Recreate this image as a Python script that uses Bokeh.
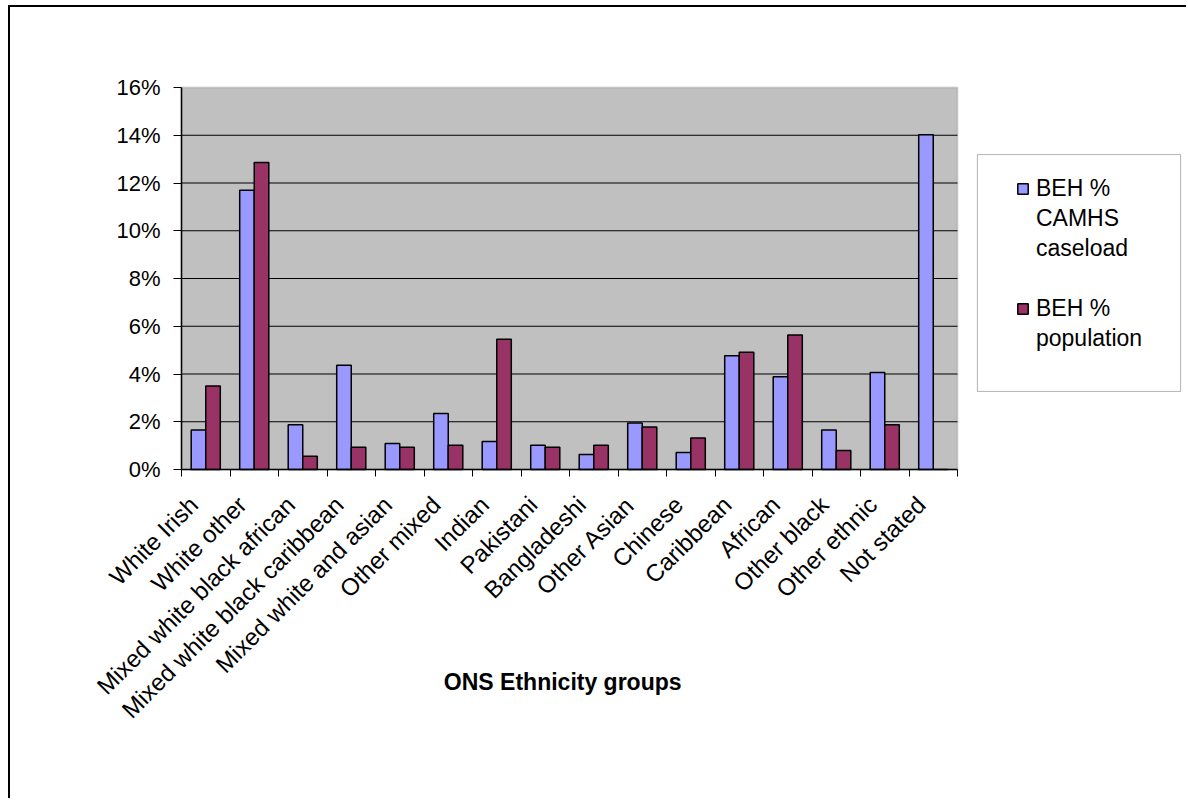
from bokeh.plotting import figure
from bokeh.models import (Range1d, FixedTicker, NumeralTickFormatter, Legend,
                          LegendItem, BoxAnnotation, Label)
from bokeh.embed import file_html
from bokeh.resources import INLINE

# ONS ethnicity groups and the two shares (fractions of the total)
categories = [
    "White Irish", "White other", "Mixed white black african",
    "Mixed white black caribbean", "Mixed white and asian", "Other mixed",
    "Indian", "Pakistani", "Bangladeshi", "Other Asian", "Chinese",
    "Caribbean", "African", "Other black", "Other ethnic", "Not stated",
]
caseload = [0.0165, 0.1170, 0.0187, 0.0437, 0.0109, 0.0235, 0.0117, 0.0102,
            0.0063, 0.0195, 0.0071, 0.0476, 0.0388, 0.0165, 0.0406, 0.1402]
population = [0.0350, 0.1286, 0.0056, 0.0093, 0.0093, 0.0102, 0.0546, 0.0093,
              0.0102, 0.0178, 0.0132, 0.0491, 0.0563, 0.0080, 0.0187, 0.0]
series_lines = [["BEH %", "CAMHS", "caseload"], ["BEH %", "population"]]
y_ticks = [0.0, 0.02, 0.04, 0.06, 0.08, 0.10, 0.12, 0.14, 0.16]
x_title = "ONS Ethnicity groups"

FONT = "Liberation Sans"
BLUE = "#9999FF"
PLUM = "#993366"

n = len(categories)
centers = [i + 0.5 for i in range(n)]
label_pos = [c - 0.25 for c in centers]   # rotated labels end just left of centre
bar_w = 0.3

# The frame covers the whole canvas; both axes are pinned at zero inside it.
# The bars occupy 776 x 382 px, starting 171 px from the left, 80 px down.
FIG_W, FIG_H = 1178, 793
PLOT_W, PLOT_H = 776, 382
AXIS_LEFT, AXIS_TOP = 171, 80
x_per_px = n / PLOT_W
y_per_px = (y_ticks[-1] - y_ticks[0]) / PLOT_H
x_start = -AXIS_LEFT * x_per_px
x_end = x_start + FIG_W * x_per_px
y_end = y_ticks[-1] + AXIS_TOP * y_per_px
y_start = y_end - FIG_H * y_per_px

p = figure(
    width=FIG_W, height=FIG_H,
    x_range=Range1d(x_start, x_end), y_range=Range1d(y_start, y_end),
    output_backend="svg", toolbar_location=None,
    min_border_left=0, min_border_right=0,
    min_border_top=0, min_border_bottom=0,
    background_fill_color="white", border_fill_color="white",
    styles={"margin-left": "8px", "margin-top": "5px",
            "border-left": "2px solid #000", "border-top": "2px solid #000"},
)
p.outline_line_color = None
p.xgrid.visible = False
p.ygrid.visible = False

# grey plot area
p.add_layout(BoxAnnotation(left=0, right=n, bottom=y_ticks[0], top=y_ticks[-1],
                           fill_color="#C0C0C0", fill_alpha=1,
                           line_color="#8C8C8C", line_width=2,
                           level="underlay"))

# horizontal grid lines across the plot area
grid_y = y_ticks[1:-1]
p.segment(x0=[0] * len(grid_y), x1=[n] * len(grid_y), y0=grid_y, y1=grid_y,
          line_color="black", line_width=1)

r1 = p.vbar(x=[c - bar_w / 2 for c in centers], top=caseload, width=bar_w,
            fill_color=BLUE, line_color="black", line_width=1.5)
r2 = p.vbar(x=[c + bar_w / 2 for c in centers], top=population, width=bar_w,
            fill_color=PLUM, line_color="black", line_width=1.5)

# value axis at x = 0
ya = p.yaxis[0]
ya.fixed_location = 0
ya.bounds = (y_ticks[0], y_ticks[-1])
ya.ticker = FixedTicker(ticks=y_ticks)
ya.formatter = NumeralTickFormatter(format="0%")
ya.major_label_text_font = FONT
ya.major_label_text_font_size = "22px"
ya.major_label_text_color = "black"
ya.major_tick_out = 8
ya.major_tick_in = 0
ya.minor_tick_line_color = None
ya.axis_line_color = "black"
ya.axis_line_width = 1.5
ya.major_tick_line_color = "black"
ya.major_label_standoff = 13

# category axis at y = 0: labels near category centres, ticks on boundaries
xa = p.xaxis[0]
xa.fixed_location = 0
xa.bounds = (0, n)
xa.ticker = FixedTicker(ticks=label_pos, minor_ticks=list(range(n + 1)))
xa.major_label_overrides = {c: lab for c, lab in zip(label_pos, categories)}
xa.major_label_orientation = 0.785398
xa.major_label_text_font = FONT
xa.major_label_text_font_size = "24px"
xa.major_label_text_color = "black"
xa.major_tick_line_color = None
xa.major_tick_out = 0
xa.major_tick_in = 0
xa.minor_tick_line_color = "black"
xa.minor_tick_out = 7
xa.minor_tick_in = 0
xa.axis_line_color = "black"
xa.axis_line_width = 1.5
xa.major_label_standoff = 24

p.add_layout(Label(x=7.86, y=-0.0892, text=x_title, text_font=FONT,
                   text_font_size="23px", text_font_style="bold",
                   text_align="center", text_baseline="middle",
                   text_color="black"))

# legend: white box, one swatch per series beside its first line
p.add_layout(BoxAnnotation(left=16.41, right=20.6, bottom=0.0327, top=0.1319,
                           fill_color="white", fill_alpha=1,
                           line_color="black", line_width=1))
items = []
for r, lines in zip([r1, r2], series_lines):
    items.append(LegendItem(label=lines[0], renderers=[r]))
    for extra in lines[1:]:
        items.append(LegendItem(label=extra, renderers=[]))
    if r is r1:
        items.append(LegendItem(label=" ", renderers=[]))
legend = Legend(
    items=items, location=(1006, 448),
    label_text_font=FONT, label_text_font_size="23px",
    label_text_color="black",
    glyph_width=13, glyph_height=13, label_standoff=7,
    label_height=27,
    padding=0, spacing=3, margin=0,
    border_line_color=None, background_fill_alpha=0,
)
p.add_layout(legend)

open("out.html", "w").write(file_html(p, INLINE))
